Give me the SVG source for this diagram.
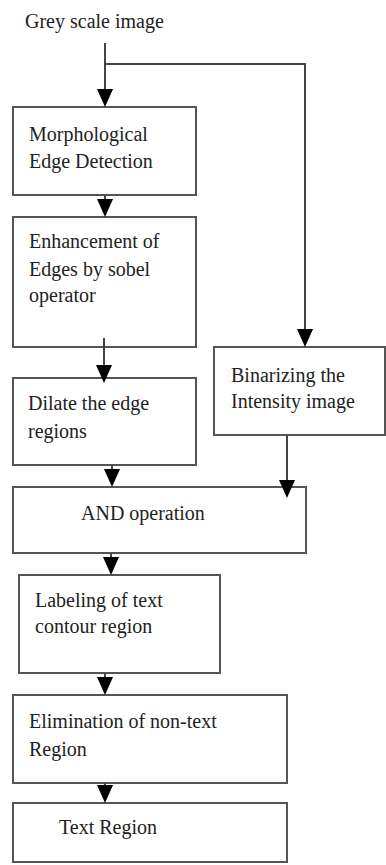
<svg xmlns="http://www.w3.org/2000/svg" width="386" height="865" viewBox="0 0 386 865">
  <style>
    .box { fill: #ffffff; stroke: #555555; stroke-width: 2; }
    .lbl { font-family: "Liberation Serif", "Times New Roman", serif; font-size: 20px; fill: #222222; }
    .wire { fill: none; stroke: #444444; stroke-width: 2; }
    .head { fill: #000000; }
  </style>
  <rect width="386" height="865" fill="#ffffff"/>

  <!-- process steps -->
  <g id="input">
    <text class="lbl" x="25" y="28">Grey scale image</text>
  </g>
  <g id="morph">
    <rect class="box" x="13" y="107" width="183" height="88"/>
    <text class="lbl" x="29" y="141">Morphological</text>
    <text class="lbl" x="29" y="168">Edge Detection</text>
  </g>
  <g id="sobel">
    <rect class="box" x="13" y="217" width="183" height="130"/>
    <text class="lbl" x="29" y="248">Enhancement of</text>
    <text class="lbl" x="29" y="276">Edges by sobel</text>
    <text class="lbl" x="29" y="302">operator</text>
  </g>
  <g id="dilate">
    <rect class="box" x="13" y="378" width="183" height="87"/>
    <text class="lbl" x="28" y="410">Dilate the edge</text>
    <text class="lbl" x="28" y="438">regions</text>
  </g>
  <g id="binarize">
    <rect class="box" x="214" y="347" width="171" height="88"/>
    <text class="lbl" x="231" y="382">Binarizing the</text>
    <text class="lbl" x="231" y="408">Intensity image</text>
  </g>
  <g id="and-op">
    <rect class="box" x="13" y="487" width="293" height="66"/>
    <text class="lbl" x="81" y="520">AND operation</text>
  </g>
  <g id="labeling">
    <rect class="box" x="19" y="575" width="201" height="98"/>
    <text class="lbl" x="35" y="607">Labeling of text</text>
    <text class="lbl" x="35" y="633">contour region</text>
  </g>
  <g id="eliminate">
    <rect class="box" x="13" y="695" width="274" height="88"/>
    <text class="lbl" x="29" y="728">Elimination of non-text</text>
    <text class="lbl" x="29" y="756">Region</text>
  </g>
  <g id="result">
    <rect class="box" x="13" y="803" width="274" height="59"/>
    <text class="lbl" x="59" y="834">Text Region</text>
  </g>

  <!-- connectors -->
  <g id="connectors">
    <path class="wire" d="M105,43 V95"/>
    <polygon class="head" points="105,107 97,89 113,89"/>

    <path class="wire" d="M105,64 H305 V335"/>
    <polygon class="head" points="305,347 297,329 313,329"/>

    <path class="wire" d="M105,195 V205"/>
    <polygon class="head" points="105,217 97,199 113,199"/>

    <path class="wire" d="M104,338 V371"/>
    <polygon class="head" points="104,383 96,365 112,365"/>

    <path class="wire" d="M112,465 V475"/>
    <polygon class="head" points="112,487 104,469 120,469"/>

    <path class="wire" d="M287,435 V486"/>
    <polygon class="head" points="287,498 279,480 295,480"/>

    <path class="wire" d="M111,553 V563"/>
    <polygon class="head" points="111,575 103,557 119,557"/>

    <path class="wire" d="M105,673 V683"/>
    <polygon class="head" points="105,695 97,677 113,677"/>

    <path class="wire" d="M105,783 V791"/>
    <polygon class="head" points="105,803 97,785 113,785"/>
  </g>
</svg>
